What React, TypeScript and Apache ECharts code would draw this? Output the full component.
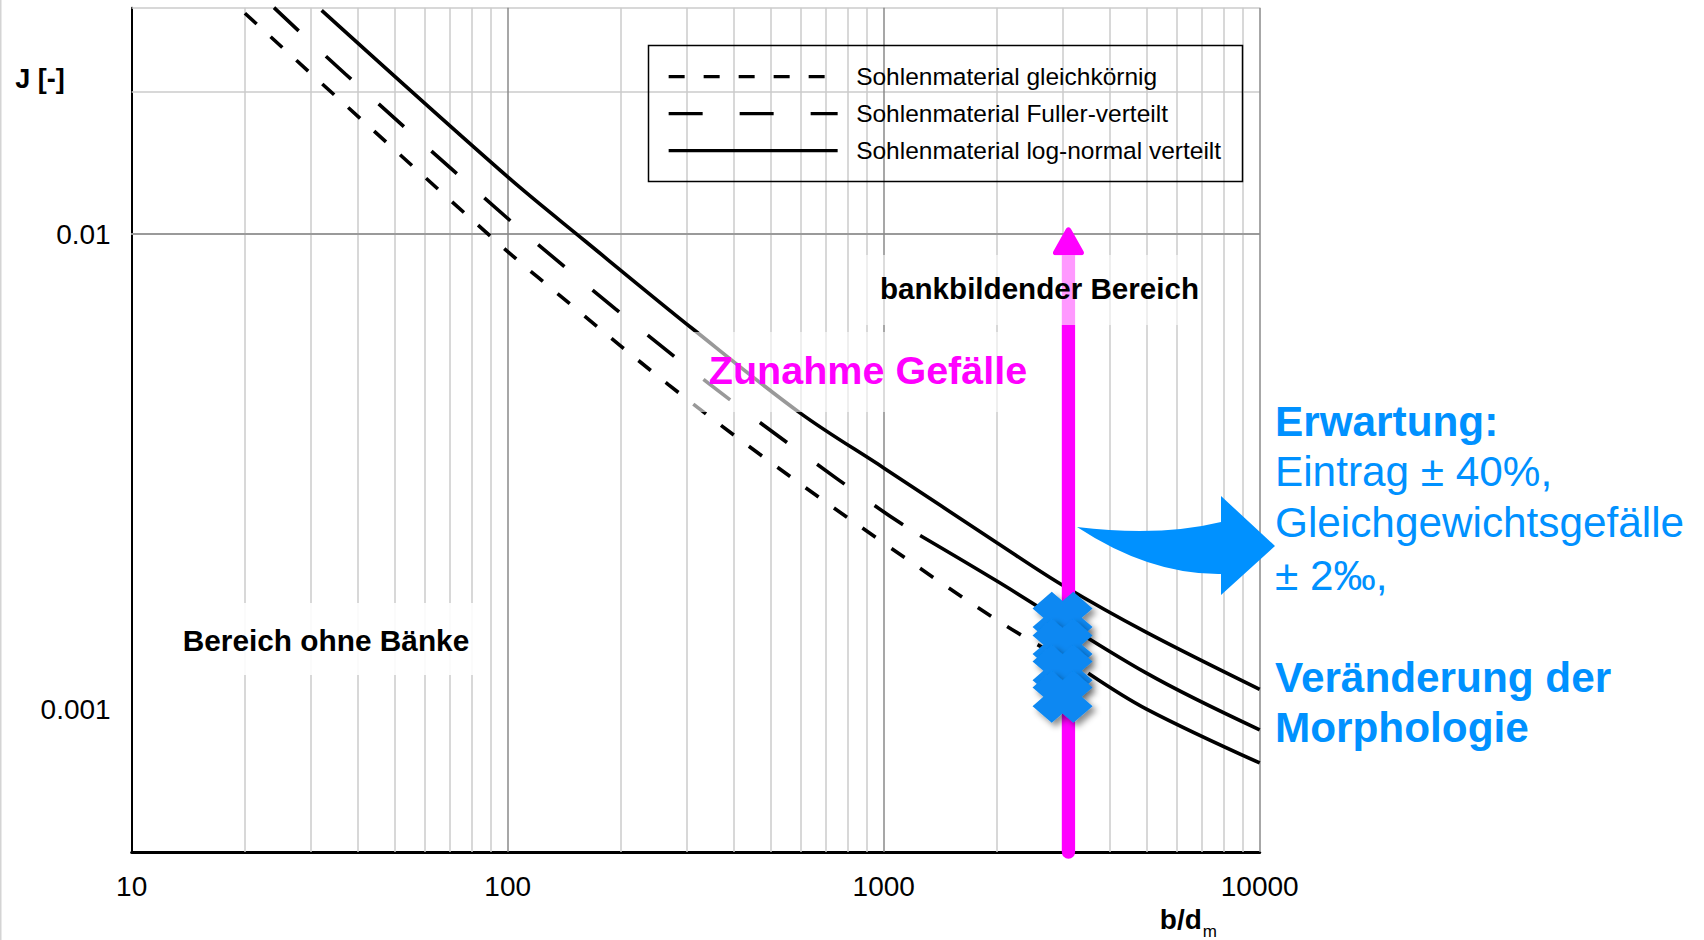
import React, { useEffect, useRef } from 'react';
import * as echarts from 'echarts';

const FONT = "'Liberation Sans', Arial, Helvetica, sans-serif";

// ---------- data ----------
const seriesNames = [
  'Sohlenmaterial gleichkörnig',
  'Sohlenmaterial Fuller-verteilt',
  'Sohlenmaterial log-normal verteilt',
];

// gleichkörnig (short dashes, solid continuation right of the markers)
const gleichX = [20, 94, 154, 267, 468, 990, 2080, 3500];
const gleichJ = [0.0292, 0.0096, 0.0069, 0.00483, 0.00344, 0.00225, 0.00151, 0.00119];
const gleichTailX = [3500, 5000, 10000];
const gleichTailJ = [0.00119, 0.001, 0.00077];

// Fuller-verteilt (long dashes, solid continuation)
const fullerX = [23.9, 37, 99, 138, 193, 283, 416, 562, 1008, 1250];
const fullerJ = [0.03, 0.02175, 0.01087, 0.00869, 0.00697, 0.00546, 0.00431, 0.00361, 0.00259, 0.00232];
const fullerTailX = [1250, 2000, 5000, 10000];
const fullerTailJ = [0.00232, 0.00186, 0.00119, 0.000904];

// log-normal verteilt (solid)
const lognormX = [32, 100, 160, 312, 600, 1000, 2000, 3000, 5000, 10000];
const lognormJ = [0.0296, 0.0132, 0.0097, 0.0063, 0.0042, 0.00322, 0.00224, 0.00182, 0.00145, 0.0011];

// magenta arrow
const arrowX = [3100, 3100];
const arrowJ = [0.0005, 0.0091];
const arrowHeadX = [3100];
const arrowHeadJ = [0.00966];

// blue markers
const markerX = [2990, 2990, 2990, 2990];
const markerJ = [0.001557, 0.001366, 0.001204, 0.001061];

// grid lines and tick labels
const xMajorGrid = [100, 1000, 10000];
const xMinorGrid = [20, 30, 40, 50, 60, 70, 80, 90, 200, 300, 400, 500, 600, 700, 800, 900, 2000, 3000, 4000, 5000, 6000, 7000, 8000, 9000];
const yMajorGrid = [0.001, 0.01];
const yMinorGrid = [0.0006, 0.0007, 0.0008, 0.0009, 0.002, 0.003, 0.004, 0.005, 0.006, 0.007, 0.008, 0.009, 0.02, 0.03];
const xTickLabels = ['10', '100', '1000', '10000'];
const yTickLabels = ['0.001', '0.01'];

const zip = (xs: number[], ys: number[]) => xs.map((x, i) => [x, ys[i]]);
const pickLabel = (labels: string[]) => (v: number) => {
  const hit = labels.find((l) => Math.abs(Math.log10(Number(l)) - Math.log10(v)) < 1e-6);
  return hit ?? '';
};

const arrowPath =
  'M1077 527 Q1160 537 1221 522 L1221 496 L1275 546 L1221 595 L1221 574 Q1150 575 1077 527 Z';
echarts.graphic.registerShape('blueArrow', echarts.graphic.extendPath(arrowPath, {}) as any);

const MAJOR = { color: '#8a8a8a', width: 1.5, type: 'solid' as const };
const MINOR = { color: '#cbcbcb', width: 1.5, type: 'solid' as const };
const CURVE_W = 3.6;
const SMOOTH = 0.35;

const blueText = (text: string, y: number, bold: boolean) => ({
  type: 'text',
  x: 1275,
  y,
  z: 20,
  silent: true,
  style: {
    text,
    fontSize: 42.3,
    fontWeight: bold ? 'bold' : 'normal',
    fontFamily: FONT,
    fill: '#0091ff',
    align: 'left',
    verticalAlign: 'middle',
  },
});

const curve = (name: string, xs: number[], ys: number[], type: any) => ({
  name,
  type: 'line',
  data: zip(xs, ys),
  symbol: 'none',
  smooth: SMOOTH,
  color: '#000',
  silent: true,
  z: 3,
  lineStyle: { color: '#000', width: CURVE_W, type },
});

function buildOption(): any {
  return {
    animation: false,
    backgroundColor: '#fff',
    grid: { left: 131.7, right: 444.3, top: 7.67, bottom: 87.7, containLabel: false },
    xAxis: {
      type: 'log',
      logBase: 10,
      min: 10,
      max: 10000,
      axisLine: { show: true, onZero: false, lineStyle: { color: '#000', width: 3 } },
      axisTick: { show: false },
      splitLine: { show: false },
      axisLabel: {
        fontSize: 28,
        color: '#000',
        fontFamily: FONT,
        margin: 20,
        showMinLabel: true,
        showMaxLabel: true,
        formatter: pickLabel(xTickLabels),
      },
      name: '{b|b/d}{s|m}',
      nameLocation: 'end',
      nameGap: -42.7,
      nameTextStyle: {
        align: 'right',
        verticalAlign: 'top',
        padding: [47, 0, 0, 0],
        rich: {
          b: { fontSize: 28, fontWeight: 'bold', fontFamily: FONT, color: '#000', lineHeight: 30 },
          s: { fontSize: 17, fontFamily: FONT, color: '#000', padding: [24, 0, 0, 1] },
        },
      },
    },
    yAxis: {
      type: 'log',
      logBase: 10,
      min: 0.0005,
      max: 0.03,
      axisLine: { show: true, onZero: false, lineStyle: { color: '#000', width: 2 } },
      axisTick: { show: false },
      splitLine: { show: false },
      axisLabel: {
        fontSize: 28,
        color: '#000',
        fontFamily: FONT,
        margin: 21,
        formatter: pickLabel(yTickLabels),
      },
      name: 'J [-]',
      nameLocation: 'end',
      nameGap: -71.5,
      nameTextStyle: {
        fontSize: 27,
        fontWeight: 'bold',
        color: '#000',
        fontFamily: FONT,
        align: 'right',
        verticalAlign: 'middle',
        padding: [0, 67, 0, 0],
      },
    },
    legend: {
      data: seriesNames,
      orient: 'vertical',
      left: 667,
      top: 64.2,
      padding: 0,
      itemWidth: 169,
      itemHeight: 24.5,
      itemGap: 12,
      selectedMode: false,
      itemStyle: { opacity: 0 },
      lineStyle: { width: 3.3 },
      textStyle: {
        fontSize: 24.5,
        color: '#000',
        fontFamily: FONT,
        padding: [0, 0, 0, 13.5],
      },
    },
    series: [
      {
        name: 'grid',
        type: 'line',
        data: [],
        silent: true,
        z: 1,
        markLine: {
          z: 1,
          silent: true,
          animation: false,
          symbol: ['none', 'none'],
          label: { show: false },
          emphasis: { disabled: true },
          data: [
            ...xMinorGrid.map((v) => ({ xAxis: v, lineStyle: MINOR })),
            ...yMinorGrid.map((v) => ({ yAxis: v, lineStyle: MINOR })),
            ...xMajorGrid.map((v) => ({ xAxis: v, lineStyle: MAJOR })),
            ...yMajorGrid.map((v) => ({ yAxis: v, lineStyle: MAJOR })),
          ],
        },
      },
      curve(seriesNames[0], gleichX, gleichJ, [16, 19]),
      curve('gleich-tail', gleichTailX, gleichTailJ, 'solid'),
      curve(seriesNames[1], fullerX, fullerJ, [34, 37]),
      curve('fuller-tail', fullerTailX, fullerTailJ, 'solid'),
      curve(seriesNames[2], lognormX, lognormJ, 'solid'),
      {
        name: 'arrow',
        type: 'line',
        data: zip(arrowX, arrowJ),
        symbol: 'none',
        silent: true,
        clip: false,
        z: 4,
        lineStyle: { color: '#ff00ff', width: 13.3, cap: 'round' },
      },
      {
        name: 'arrowHead',
        type: 'scatter',
        data: zip(arrowHeadX, arrowHeadJ),
        silent: true,
        clip: false,
        z: 4,
        symbol:
          'path://M50,0 C55,0 57,4 59,8 L98,86 C101,94 97,100 89,100 L11,100 C3,100 -1,94 2,86 L41,8 C43,4 45,0 50,0 Z',
        symbolSize: [31, 28],
        itemStyle: { color: '#ff00ff', opacity: 1 },
      },
      {
        name: 'markers',
        type: 'scatter',
        data: zip(markerX, markerJ),
        silent: true,
        clip: false,
        z: 30,
        symbol: 'path://M0,32 L32,0 L50,18 L68,0 L100,32 L82,50 L100,68 L68,100 L50,82 L32,100 L0,68 L18,50 Z',
        symbolSize: [60, 52],
        itemStyle: {
          color: '#0b88f2',
          opacity: 1,
          shadowBlur: 6,
          shadowColor: 'rgba(0,0,0,0.45)',
          shadowOffsetX: 4,
          shadowOffsetY: 4,
        },
      },
    ],
    graphic: {
      elements: [
        {
          type: 'line',
          silent: true,
          z: 0,
          shape: { x1: 0.75, y1: 0, x2: 0.75, y2: 940 },
          style: { stroke: '#d4d4d4', lineWidth: 1.5 },
        },
        {
          type: 'rect',
          silent: true,
          z: 5,
          shape: { x: 648.5, y: 45.5, width: 594, height: 136 },
          style: { fill: 'none', stroke: '#000', lineWidth: 1.5 },
        },
        {
          type: 'rect',
          silent: true,
          z: 10,
          shape: { x: 861, y: 255, width: 338, height: 70 },
          style: { fill: 'rgba(255,255,255,0.6)' },
        },
        {
          type: 'rect',
          silent: true,
          z: 10,
          shape: { x: 690, y: 332, width: 362, height: 80 },
          style: { fill: 'rgba(255,255,255,0.6)' },
        },
        {
          type: 'rect',
          silent: true,
          z: 10,
          shape: { x: 174, y: 603, width: 304, height: 72 },
          style: { fill: 'rgba(255,255,255,0.9)' },
        },
        {
          type: 'text',
          silent: true,
          z: 20,
          x: 326,
          y: 640.5,
          style: {
            text: 'Bereich ohne Bänke',
            fontSize: 29.8,
            fontWeight: 'bold',
            fontFamily: FONT,
            fill: '#000',
            align: 'center',
            verticalAlign: 'middle',
          },
        },
        {
          type: 'text',
          silent: true,
          z: 20,
          x: 1039.5,
          y: 288.5,
          style: {
            text: 'bankbildender Bereich',
            fontSize: 29.6,
            fontWeight: 'bold',
            fontFamily: FONT,
            fill: '#000',
            align: 'center',
            verticalAlign: 'middle',
          },
        },
        {
          type: 'text',
          silent: true,
          z: 20,
          x: 868,
          y: 370,
          style: {
            text: 'Zunahme Gefälle',
            fontSize: 39.5,
            fontWeight: 'bold',
            fontFamily: FONT,
            fill: '#ff00ff',
            align: 'center',
            verticalAlign: 'middle',
          },
        },
        blueText('Erwartung:', 421, true),
        blueText('Eintrag ± 40%,', 471.7, false),
        blueText('Gleichgewichtsgefälle', 522, false),
        blueText('± 2‰,', 575.5, false),
        blueText('Veränderung der', 677.5, true),
        blueText('Morphologie', 727.5, true),
        {
          type: 'blueArrow',
          silent: true,
          z: 25,
          x: 0,
          y: 0,
          scaleX: 1,
          scaleY: 1,
          style: { fill: '#0091ff' },
        },
      ],
    },
  };
}

export default function App() {
  const ref = useRef<HTMLDivElement>(null);
  useEffect(() => {
    if (!ref.current) return;
    const chart = echarts.init(ref.current, null, { renderer: 'svg' });
    chart.setOption(buildOption());
    return () => chart.dispose();
  }, []);
  return (
    <div
      ref={ref}
      style={{ position: 'fixed', left: 0, top: 0, width: 1704, height: 940, background: '#fff' }}
    />
  );
}
